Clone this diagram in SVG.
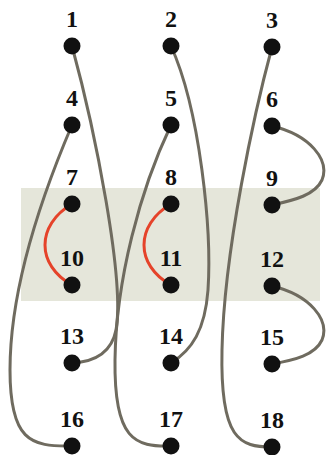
<svg xmlns="http://www.w3.org/2000/svg" width="327" height="455" viewBox="0 0 327 455">
<style>
.lbl{font-family:"Liberation Serif","Times New Roman",serif;font-weight:bold;font-size:24px;fill:#111;text-anchor:middle}
.c{fill:none;stroke:#6f6b5f;stroke-width:3;stroke-linecap:round}
.r{fill:none;stroke:#e5432a;stroke-width:3;stroke-linecap:round}
.dot{fill:#111}
</style>
<rect x="21" y="188" width="299" height="113" fill="#e5e6da"/>
<g id="connectors">
<path class="c" d="M72,46 C95,130 125,280 116,330 C111,355 92,362 72,363"/>
<path class="c" d="M72,125 C40,200 10,290 10,370 C10,440 30,447 72,446"/>
<path class="c" d="M171,46 C200,110 212,230 208,290 C205,330 192,350 171,363"/>
<path class="c" d="M171,125 C140,190 116,280 115,360 C114,440 135,447 171,446"/>
<path class="c" d="M272,47 C255,110 224,250 222,350 C220,440 240,447 272,447"/>
<path class="c" d="M272,126 C310,135 330,160 322,180 C315,195 295,200 272,205"/>
<path class="c" d="M272,286 C310,295 330,320 322,340 C315,355 295,360 272,364"/>
<path class="r" d="M72,204 C36,225 36,265 72,285"/>
<path class="r" d="M171,204 C135,225 135,265 171,285"/>
</g>
<g id="n1"><circle class="dot" cx="72" cy="46" r="8.5"/><text class="lbl" x="72" y="27">1</text></g>
<g id="n2"><circle class="dot" cx="171" cy="46" r="8.5"/><text class="lbl" x="171" y="27">2</text></g>
<g id="n3"><circle class="dot" cx="272" cy="47" r="8.5"/><text class="lbl" x="272" y="28">3</text></g>
<g id="n4"><circle class="dot" cx="72" cy="125" r="8.5"/><text class="lbl" x="72" y="106">4</text></g>
<g id="n5"><circle class="dot" cx="171" cy="125" r="8.5"/><text class="lbl" x="171" y="106">5</text></g>
<g id="n6"><circle class="dot" cx="272" cy="126" r="8.5"/><text class="lbl" x="272" y="107">6</text></g>
<g id="n7"><circle class="dot" cx="72" cy="204" r="8.5"/><text class="lbl" x="72" y="185">7</text></g>
<g id="n8"><circle class="dot" cx="171" cy="204" r="8.5"/><text class="lbl" x="171" y="185">8</text></g>
<g id="n9"><circle class="dot" cx="272" cy="205" r="8.5"/><text class="lbl" x="272" y="186">9</text></g>
<g id="n10"><circle class="dot" cx="72" cy="285" r="8.5"/><text class="lbl" x="72" y="266">10</text></g>
<g id="n11"><circle class="dot" cx="171" cy="285" r="8.5"/><text class="lbl" x="171" y="266">11</text></g>
<g id="n12"><circle class="dot" cx="272" cy="286" r="8.5"/><text class="lbl" x="272" y="267">12</text></g>
<g id="n13"><circle class="dot" cx="72" cy="363" r="8.5"/><text class="lbl" x="72" y="344">13</text></g>
<g id="n14"><circle class="dot" cx="171" cy="363" r="8.5"/><text class="lbl" x="171" y="344">14</text></g>
<g id="n15"><circle class="dot" cx="272" cy="364" r="8.5"/><text class="lbl" x="272" y="345">15</text></g>
<g id="n16"><circle class="dot" cx="72" cy="446" r="8.5"/><text class="lbl" x="72" y="427">16</text></g>
<g id="n17"><circle class="dot" cx="171" cy="446" r="8.5"/><text class="lbl" x="171" y="427">17</text></g>
<g id="n18"><circle class="dot" cx="272" cy="447" r="8.5"/><text class="lbl" x="272" y="428">18</text></g>
</svg>
